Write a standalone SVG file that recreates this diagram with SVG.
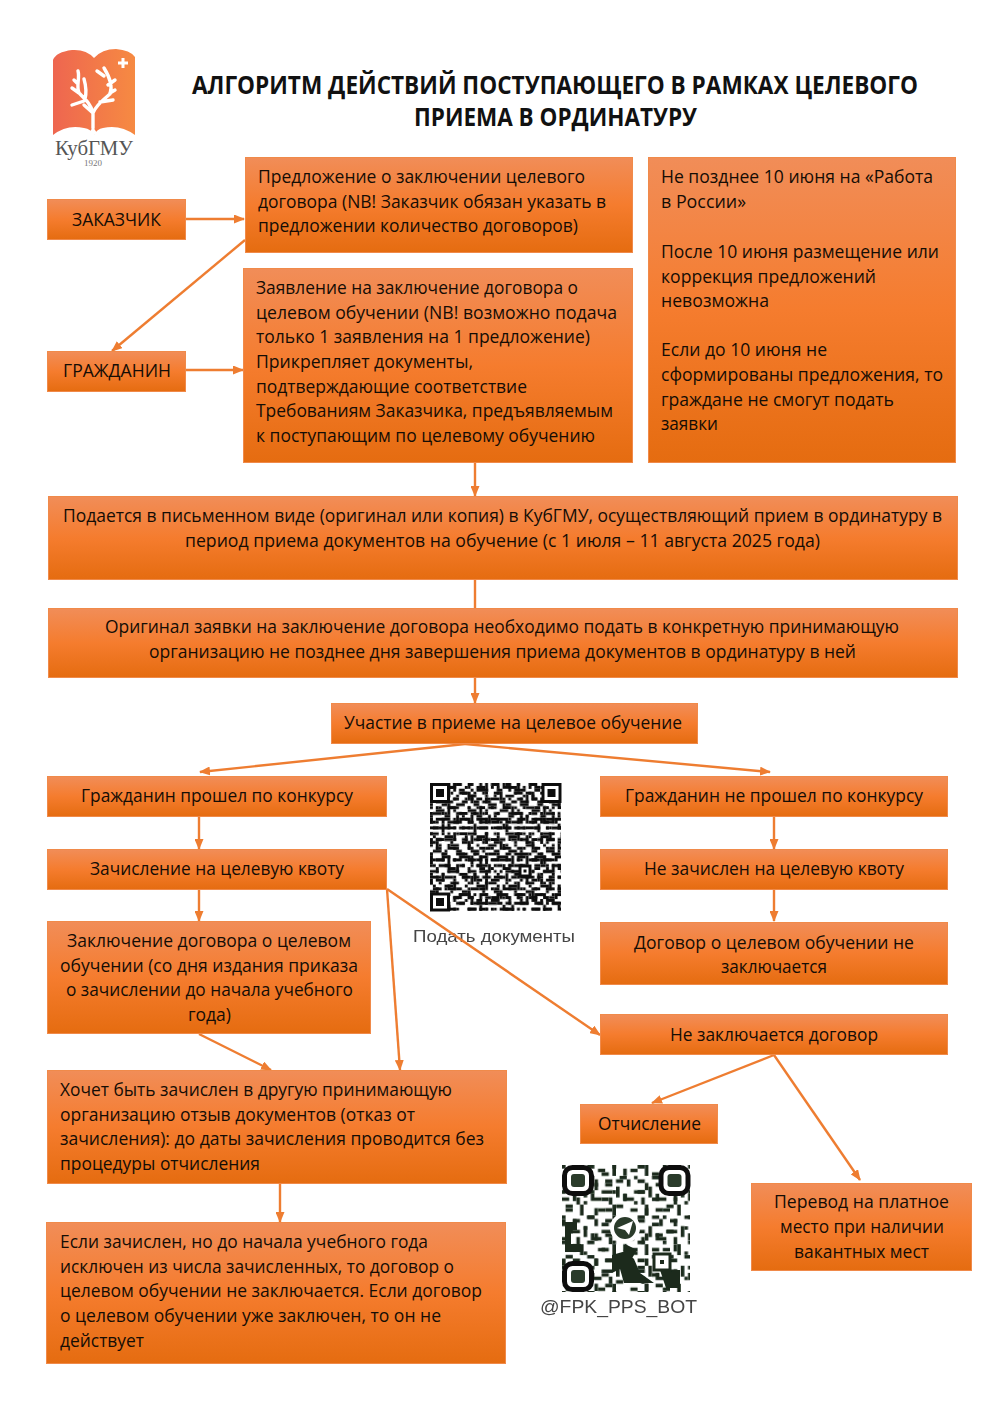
<svg xmlns="http://www.w3.org/2000/svg" width="1000" height="1414" viewBox="0 0 1000 1414">
<style>
.b{fill:url(#g);stroke:#f08a4a;stroke-width:1}
.t{font-family:"Open Sans","Noto Sans",sans-serif;font-size:17.6px;fill:#150d05}
.h{font-family:"Open Sans","Noto Sans",sans-serif;font-size:25px;font-weight:700;fill:#111}
.c{fill:none;stroke:#ee7d31;stroke-width:2.4}
.a{marker-end:url(#m)}
.q{font-family:"Liberation Sans",Arial,sans-serif;fill:#444}
.tr{fill:none;stroke:#fff;stroke-linecap:round;stroke-linejoin:round;stroke-width:3.4}
</style>
<defs>
<linearGradient id="g" x1="0" y1="0" x2="0" y2="1"><stop offset="0" stop-color="#f18d58"/><stop offset=".5" stop-color="#f57c2e"/><stop offset="1" stop-color="#e56c10"/></linearGradient>
<linearGradient id="lg" x1="0" y1="0" x2="1" y2="0"><stop offset="0" stop-color="#ee6650"/><stop offset="1" stop-color="#f68a42"/></linearGradient>
<marker id="m" markerWidth="11" markerHeight="9" refX="10" refY="4.500" orient="auto" markerUnits="userSpaceOnUse"><path d="M0 0L11 4.500L0 9z" fill="#ee7d31"/></marker>
<pattern id="p1" width="13" height="13" patternUnits="userSpaceOnUse" patternTransform="translate(430 783) scale(2.9)"><path d="M0 .5h2M4 .5h1M8 .5h3M1 2.5h1M3 2.5h4M10 2.5h2M0 4.5h3M6 4.5h1M9 4.5h1M2 6.5h2M5 6.5h3M11 6.5h2M0 8.5h1M3 8.5h1M7 8.5h3M1 10.5h3M5 10.5h1M9 10.5h2M0 12.5h1M4 12.5h3M10 12.5h3" stroke="#111" fill="none"/></pattern>
<pattern id="p2" width="11" height="17" patternUnits="userSpaceOnUse" patternTransform="translate(430 783) scale(2.9)"><path d="M1 1.5h1M5 1.5h3M0 3.5h2M7 3.5h1M3 5.5h1M8 5.5h2M0 7.5h1M4 7.5h2M9 7.5h2M2 9.5h3M8 9.5h1M5 11.5h2M0 11.5h1M2 13.5h1M6 13.5h4M0 15.5h3M8 15.5h1" stroke="#111" fill="none"/><path d="M2.5 3v3M6.500 8v3M9.500 11v3M4.500 14v3M8.500 0v3" stroke="#111" fill="none"/></pattern>
<pattern id="p5" width="19" height="7" patternUnits="userSpaceOnUse" patternTransform="translate(430 783) scale(2.9)"><path d="M2 1.500h1M7 1.500h2M13 1.500h1M17 1.500h2M0 3.500h1M4 3.500h1M10 3.500h3M15 3.500h1M2 5.500h3M8 5.500h1M12 5.500h1M16 5.500h2M6.500 0v2M14.500 4v3M.5 5v2" stroke="#111" fill="none"/></pattern>
<pattern id="p3" width="9" height="11" patternUnits="userSpaceOnUse" patternTransform="translate(562 1165) scale(3.6)"><path d="M1 1h2v1h-2zM5 0h1v3h-1zM7 3h2v1h-2zM0 4h1v2h-1zM3 4h2v1h-2zM6 6h1v3h-1zM2 7h3v1h-3zM0 9h2v1h-2zM4 9h1v2h-1zM8 8h1v2h-1z" fill="#1a2a1c"/></pattern>
<pattern id="p4" width="14" height="7" patternUnits="userSpaceOnUse" patternTransform="translate(562 1165) scale(3.6)"><path d="M0 0h1v1h-1zM3 1h1v2h-1zM7 0h2v1h-2zM11 2h2v1h-2zM1 4h2v1h-2zM6 3h1v1h-1zM9 5h1v2h-1zM12 5h2v1h-2z" fill="#1a2a1c"/></pattern>
<filter id="bl" x="-5%" y="-5%" width="110%" height="110%"><feGaussianBlur stdDeviation=".55"/></filter>
</defs>
<rect width="1000" height="1414" fill="#fff"/>

<g id="logo">
<path d="M53 60Q56 52 72 50Q86 49 94 58Q102 49 116 49Q130 50 135 57V135Q120 124 103 128Q97 129 94 135Q91 129 84 128Q67 124 53 135Z" fill="url(#lg)"/>
<path class="tr" d="M93 128V113C91 104 85 99 79 93C76 86 80 78 78 71M79 93L72 88M85 99C87 91 86 86 84 79M72 105L84 101M93 113C96 105 104 99 110 94C113 86 109 76 104 68M104 76L97 71M108 85L115 80M100 102L113 100M110 93L115 90M93 113L84 105M74 80L78 84"/>
<path d="M93 127L97 133L93 136L89 133Z" fill="#fff"/>
<path d="M118 63h10M123 58v10" stroke="#fff" stroke-width="3" fill="none"/>
<text x="94" y="155" text-anchor="middle" font-family="Liberation Serif,serif" font-size="21" fill="#555" textLength="78" lengthAdjust="spacingAndGlyphs">КубГМУ</text>
<text x="93" y="166" text-anchor="middle" font-family="Liberation Serif,serif" font-size="9" fill="#777">1920</text>
</g>

<g id="title">
<text class="h" x="192" y="94" textLength="726" lengthAdjust="spacingAndGlyphs">АЛГОРИТМ ДЕЙСТВИЙ ПОСТУПАЮЩЕГО В РАМКАХ ЦЕЛЕВОГО</text>
<text class="h" x="414" y="126" textLength="283" lengthAdjust="spacingAndGlyphs">ПРИЕМА В ОРДИНАТУРУ</text>
</g>

<g id="qr1">
<g filter="url(#bl)">
<rect x="430" y="783" width="131" height="128" fill="url(#p1)"/>
<rect x="430" y="783" width="131" height="128" fill="url(#p2)"/>
<rect x="430" y="783" width="131" height="128" fill="url(#p5)"/>
<g fill="#fff" stroke="#111" stroke-width="3"><rect x="431.500" y="784.500" width="17" height="17"/><rect x="543" y="784.500" width="17" height="17"/><rect x="431.500" y="894" width="17" height="16"/><rect x="520" y="866" width="10" height="10"/></g>
<g fill="#111"><rect x="436" y="789" width="8" height="8"/><rect x="547.500" y="789" width="8" height="8"/><rect x="436" y="898" width="8" height="8"/><rect x="523.500" y="869.500" width="3" height="3"/></g>
<text class="q" x="413" y="942" font-size="17" textLength="162" lengthAdjust="spacingAndGlyphs">Подать документы</text>
</g>
</g>

<g id="qr2">
<g filter="url(#bl)">
<rect x="562" y="1165" width="128" height="127" fill="url(#p3)"/>
<rect x="562" y="1165" width="128" height="127" fill="url(#p4)"/>
<path d="M565 1222h12v8h-6v14h10v8h-16zM612 1255l14-4 8 8 6 14 14 10h-30l-4-14-8 4zM660 1270h20v18h-14zM625 1244l12 6-6 10-8-6z" fill="#1a2a1c"/>
<g fill="#fff" stroke="#111" stroke-width="5"><rect x="564.500" y="1167.500" width="27" height="26" rx="8"/><rect x="661" y="1167.500" width="27" height="26" rx="8"/><rect x="564.500" y="1263.500" width="27" height="26" rx="8"/></g>
<g fill="#2a3a2c"><rect x="571" y="1174" width="14" height="13" rx="3"/><rect x="667.500" y="1174" width="14" height="13" rx="3"/><rect x="571" y="1270" width="14" height="13" rx="3"/></g>
<circle cx="625" cy="1228" r="15" fill="#fff"/><circle cx="625" cy="1228" r="11" fill="#2a3a2c"/><path d="M617 1228L633 1221L629 1235L625 1230Z" fill="#fff"/>
<rect x="654" y="1254" width="16" height="16" fill="#fff" stroke="#1a2a1c" stroke-width="3"/><rect x="660" y="1260" width="4" height="4" fill="#1a2a1c"/>
<text class="q" x="540" y="1313" font-size="19" textLength="157" lengthAdjust="spacingAndGlyphs">@FPK_PPS_BOT</text>
</g>
</g>

<g id="connectors">
<path class="c a" d="M185 219H244"/>
<path class="c a" d="M245 240L112 351"/>
<path class="c a" d="M185 370H243"/>
<path class="c a" d="M475 463V496"/>
<path class="c" d="M475 580V608"/>
<path class="c a" d="M475 678V703"/>
<path class="c a" d="M465 744L200 772"/>
<path class="c a" d="M465 744L770 772"/>
<path class="c a" d="M199 817V849"/>
<path class="c a" d="M774 817V849"/>
<path class="c a" d="M199 890V921"/>
<path class="c a" d="M774 890V921"/>
<path class="c a" d="M387 889L600 1035"/>
<path class="c a" d="M387 889L400 1070"/>
<path class="c a" d="M199 1034L271 1070"/>
<path class="c a" d="M774 1055L652 1103"/>
<path class="c a" d="M774 1055L860 1180"/>
<path class="c a" d="M280 1184V1222"/>
</g>

<g id="n1"><rect class="b" x="47.500" y="199.500" width="138" height="40"/><text class="t" x="72" y="226" textLength="89" lengthAdjust="spacingAndGlyphs">ЗАКАЗЧИК</text></g>
<g id="n2"><rect class="b" x="47.500" y="351.500" width="138" height="40"/><text class="t" x="63" y="377" textLength="108" lengthAdjust="spacingAndGlyphs">ГРАЖДАНИН</text></g>
<g id="n3"><rect class="b" x="245.500" y="157.500" width="387" height="95"/>
<text class="t" x="258" y="183" textLength="327" lengthAdjust="spacingAndGlyphs">Предложение о заключении целевого</text>
<text class="t" x="258" y="208" textLength="348" lengthAdjust="spacingAndGlyphs">договора (NB! Заказчик обязан указать в</text>
<text class="t" x="258" y="232" textLength="320" lengthAdjust="spacingAndGlyphs">предложении количество договоров)</text></g>
<g id="n4"><rect class="b" x="243.500" y="268.500" width="389" height="194"/>
<text class="t" x="256" y="294" textLength="322" lengthAdjust="spacingAndGlyphs">Заявление на заключение договора о</text>
<text class="t" x="256" y="319" textLength="361" lengthAdjust="spacingAndGlyphs">целевом обучении (NB! возможно подача</text>
<text class="t" x="256" y="343" textLength="334" lengthAdjust="spacingAndGlyphs">только 1 заявления на 1 предложение)</text>
<text class="t" x="256" y="368" textLength="217" lengthAdjust="spacingAndGlyphs">Прикрепляет документы,</text>
<text class="t" x="256" y="393" textLength="271" lengthAdjust="spacingAndGlyphs">подтверждающие соответствие</text>
<text class="t" x="256" y="417" textLength="357" lengthAdjust="spacingAndGlyphs">Требованиям Заказчика, предъявляемым</text>
<text class="t" x="256" y="442" textLength="339" lengthAdjust="spacingAndGlyphs">к поступающим по целевому обучению</text></g>
<g id="n5"><rect class="b" x="648.500" y="157.500" width="307" height="305"/>
<text class="t" x="661" y="183" textLength="272" lengthAdjust="spacingAndGlyphs">Не позднее 10 июня на «Работа</text>
<text class="t" x="661" y="208" textLength="85" lengthAdjust="spacingAndGlyphs">в России»</text>
<text class="t" x="661" y="258" textLength="278" lengthAdjust="spacingAndGlyphs">После 10 июня размещение или</text>
<text class="t" x="661" y="283" textLength="215" lengthAdjust="spacingAndGlyphs">коррекция предложений</text>
<text class="t" x="661" y="307" textLength="108" lengthAdjust="spacingAndGlyphs">невозможна</text>
<text class="t" x="661" y="356" textLength="166" lengthAdjust="spacingAndGlyphs">Если до 10 июня не</text>
<text class="t" x="661" y="381" textLength="282" lengthAdjust="spacingAndGlyphs">сформированы предложения, то</text>
<text class="t" x="661" y="406" textLength="233" lengthAdjust="spacingAndGlyphs">граждане не смогут подать</text>
<text class="t" x="661" y="430" textLength="57" lengthAdjust="spacingAndGlyphs">заявки</text></g>
<g id="n6"><rect class="b" x="48.500" y="496.500" width="909" height="83"/>
<text class="t" x="63" y="522" textLength="879" lengthAdjust="spacingAndGlyphs">Подается в письменном виде (оригинал или копия) в КубГМУ, осуществляющий прием в ординатуру в</text>
<text class="t" x="185" y="547" textLength="635" lengthAdjust="spacingAndGlyphs">период приема документов на обучение (с 1 июля – 11 августа 2025 года)</text></g>
<g id="n7"><rect class="b" x="48.500" y="608.500" width="909" height="69"/>
<text class="t" x="105" y="633" textLength="794" lengthAdjust="spacingAndGlyphs">Оригинал заявки на заключение договора необходимо подать в конкретную принимающую</text>
<text class="t" x="149" y="658" textLength="707" lengthAdjust="spacingAndGlyphs">организацию не позднее дня завершения приема документов в ординатуру в ней</text></g>
<g id="n8"><rect class="b" x="331.500" y="703.500" width="366" height="40"/><text class="t" x="344" y="729" textLength="338" lengthAdjust="spacingAndGlyphs">Участие в приеме на целевое обучение</text></g>
<g id="n9"><rect class="b" x="47.500" y="776.500" width="339" height="40"/><text class="t" x="81" y="802" textLength="272" lengthAdjust="spacingAndGlyphs">Гражданин прошел по конкурсу</text></g>
<g id="n10"><rect class="b" x="600.500" y="776.500" width="347" height="40"/><text class="t" x="625" y="802" textLength="298" lengthAdjust="spacingAndGlyphs">Гражданин не прошел по конкурсу</text></g>
<g id="n11"><rect class="b" x="47.500" y="849.500" width="339" height="40"/><text class="t" x="90" y="875" textLength="254" lengthAdjust="spacingAndGlyphs">Зачисление на целевую квоту</text></g>
<g id="n12"><rect class="b" x="600.500" y="849.500" width="347" height="40"/><text class="t" x="644" y="875" textLength="260" lengthAdjust="spacingAndGlyphs">Не зачислен на целевую квоту</text></g>
<g id="n13"><rect class="b" x="47.500" y="921.500" width="323" height="112"/>
<text class="t" x="67" y="947" textLength="284" lengthAdjust="spacingAndGlyphs">Заключение договора о целевом</text>
<text class="t" x="60" y="972" textLength="298" lengthAdjust="spacingAndGlyphs">обучении (со дня издания приказа</text>
<text class="t" x="66" y="996" textLength="287" lengthAdjust="spacingAndGlyphs">о зачислении до начала учебного</text>
<text class="t" x="188" y="1021" textLength="43" lengthAdjust="spacingAndGlyphs">года)</text></g>
<g id="n14"><rect class="b" x="600.500" y="922.500" width="347" height="62"/>
<text class="t" x="634" y="949" textLength="280" lengthAdjust="spacingAndGlyphs">Договор о целевом обучении не</text>
<text class="t" x="721" y="973" textLength="106" lengthAdjust="spacingAndGlyphs">заключается</text></g>
<g id="n15"><rect class="b" x="600.500" y="1014.500" width="347" height="40"/><text class="t" x="670" y="1041" textLength="208" lengthAdjust="spacingAndGlyphs">Не заключается договор</text></g>
<g id="n16"><rect class="b" x="580.500" y="1104.500" width="137" height="39"/><text class="t" x="598" y="1130" textLength="103" lengthAdjust="spacingAndGlyphs">Отчисление</text></g>
<g id="n17"><rect class="b" x="751.500" y="1183.500" width="220" height="87"/>
<text class="t" x="774" y="1208" textLength="175" lengthAdjust="spacingAndGlyphs">Перевод на платное</text>
<text class="t" x="780" y="1233" textLength="164" lengthAdjust="spacingAndGlyphs">место при наличии</text>
<text class="t" x="794" y="1258" textLength="135" lengthAdjust="spacingAndGlyphs">вакантных мест</text></g>
<g id="n18"><rect class="b" x="47.500" y="1070.500" width="459" height="113"/>
<text class="t" x="60" y="1096" textLength="392" lengthAdjust="spacingAndGlyphs">Хочет быть зачислен в другую принимающую</text>
<text class="t" x="60" y="1121" textLength="355" lengthAdjust="spacingAndGlyphs">организацию отзыв документов (отказ от</text>
<text class="t" x="60" y="1145" textLength="424" lengthAdjust="spacingAndGlyphs">зачисления): до даты зачисления проводится без</text>
<text class="t" x="60" y="1170" textLength="200" lengthAdjust="spacingAndGlyphs">процедуры отчисления</text></g>
<g id="n19"><rect class="b" x="46.500" y="1222.500" width="459" height="141"/>
<text class="t" x="60" y="1248" textLength="368" lengthAdjust="spacingAndGlyphs">Если зачислен, но до начала учебного года</text>
<text class="t" x="60" y="1273" textLength="394" lengthAdjust="spacingAndGlyphs">исключен из числа зачисленных, то договор о</text>
<text class="t" x="60" y="1297" textLength="422" lengthAdjust="spacingAndGlyphs">целевом обучении не заключается. Если договор</text>
<text class="t" x="60" y="1322" textLength="381" lengthAdjust="spacingAndGlyphs">о целевом обучении уже заключен, то он не</text>
<text class="t" x="60" y="1347" textLength="84" lengthAdjust="spacingAndGlyphs">действует</text></g>
</svg>
